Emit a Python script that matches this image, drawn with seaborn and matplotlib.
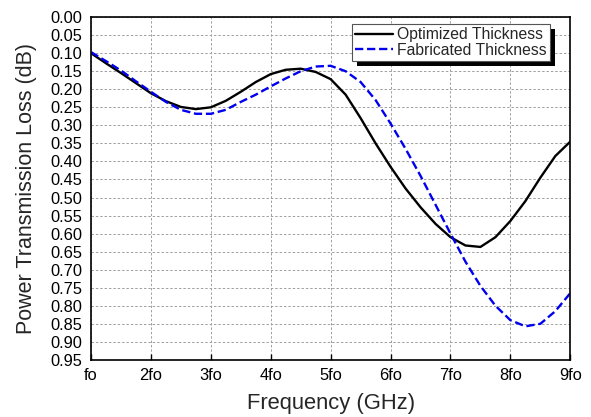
import numpy as np
import pandas as pd
import matplotlib
matplotlib.use("Agg")
import matplotlib.pyplot as plt
import matplotlib.transforms as mtransforms
from matplotlib.patches import Rectangle
import seaborn as sns

# frequency in multiples of fo
freq = [1.0, 1.25, 1.5, 1.75, 2.0, 2.25, 2.5, 2.75, 3.0, 3.25, 3.5, 3.75, 4.0,
        4.25, 4.5, 4.75, 5.0, 5.25, 5.5, 5.75, 6.0, 6.25, 6.5, 6.75, 7.0, 7.25,
        7.5, 7.75, 8.0, 8.25, 8.5, 8.75, 9.0]

optimized = [0.100, 0.128, 0.155, 0.183, 0.211, 0.233, 0.249, 0.255, 0.250,
             0.232, 0.207, 0.180, 0.158, 0.146, 0.143, 0.152, 0.172, 0.215,
             0.280, 0.350, 0.415, 0.475, 0.527, 0.573, 0.610, 0.633, 0.637,
             0.610, 0.565, 0.510, 0.445, 0.385, 0.345]

fabricated = [0.097, 0.122, 0.148, 0.178, 0.207, 0.235, 0.257, 0.268, 0.268,
              0.257, 0.235, 0.215, 0.192, 0.170, 0.150, 0.137, 0.135, 0.150,
              0.180, 0.230, 0.295, 0.365, 0.440, 0.520, 0.600, 0.678, 0.745,
              0.800, 0.840, 0.857, 0.850, 0.815, 0.765]

xtick_labels = ["fo", "2fo", "3fo", "4fo", "5fo", "6fo", "7fo", "8fo", "9fo"]

df = pd.DataFrame({"freq": freq, "opt": optimized, "fab": fabricated})

sns.set_style("white")
plt.rcParams["font.family"] = ["Liberation Sans", "DejaVu Sans"]

fig = plt.figure(figsize=(5.91, 4.17), dpi=100)
ax = fig.add_axes([0.154, 0.137, 0.811, 0.822])

sns.lineplot(data=df, x="freq", y="opt", ax=ax, color="black", lw=1.7,
             label="Optimized Thickness")
sns.lineplot(data=df, x="freq", y="fab", ax=ax, color="#0000ee", lw=1.7,
             label="Fabricated Thickness")
ax.lines[1].set_dashes((3.5, 1.6))
for ln in ax.lines:
    ln.set_solid_joinstyle("round")
    ln.set_dash_joinstyle("round")

ax.set_xlim(1, 9)
ax.set_ylim(0.95, 0.0)
ax.set_xticks(range(1, 10))
ax.set_xticklabels(xtick_labels)
yt = np.round(np.arange(0, 0.951, 0.05), 2)
ax.set_yticks(yt)
ax.set_yticklabels([f"{v:.2f}" for v in yt])
ax.tick_params(axis="both", direction="in", length=4, width=1, labelsize=11.8,
               colors="black", left=True, bottom=True)
ax.tick_params(axis="x", pad=6)
ax.tick_params(axis="y", pad=6.5, length=0)

ax.grid(True, color="#a0a0a0", linestyle=(0, (2.5, 2)), linewidth=0.7)
for s in ax.spines.values():
    s.set_color("black")
    s.set_linewidth(1.2)

ax.set_xlabel("Frequency (GHz)", fontsize=15.8, labelpad=7)
ax.set_ylabel("Power Transmission Loss (dB)", fontsize=15.5, labelpad=9)

leg = ax.legend(loc="upper right", bbox_to_anchor=(0.958, 0.98),
                fontsize=11.3, frameon=True, fancybox=False, shadow=False,
                handlelength=2.4, handletextpad=0.3, borderpad=0.2,
                labelspacing=0.05, borderaxespad=0.0)
leg.get_frame().set_edgecolor("#555555")
leg.get_frame().set_linewidth(0.8)
leg.get_frame().set_alpha(1)

# black drop shadow behind the legend box
fig.canvas.draw()
bb = leg.get_window_extent()
shadow = Rectangle((bb.x0 + 5, bb.y0 - 5), bb.width, bb.height,
                   transform=mtransforms.IdentityTransform(),
                   facecolor="black", edgecolor="none", zorder=4.9)
ax.add_artist(shadow)

fig.savefig("out.png", dpi=100)
